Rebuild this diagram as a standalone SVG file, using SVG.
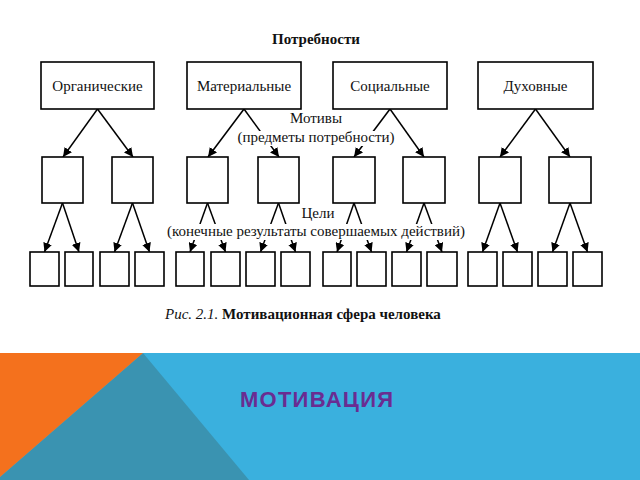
<svg xmlns="http://www.w3.org/2000/svg" width="640" height="480" viewBox="0 0 640 480">
<defs>
<marker id="ah" viewBox="0 0 10 10" refX="10" refY="5" markerWidth="9" markerHeight="9" markerUnits="userSpaceOnUse" orient="auto">
<path d="M0,0 L10,5 L0,10 z" fill="#000"/>
</marker>
<style>
.box{fill:#fff;stroke:#000;stroke-width:1.6}
.lbl{font-size:15px;fill:#111;text-anchor:middle}
.ar{stroke:#000;stroke-width:1.5;fill:none;marker-end:url(#ah)}
.bold{font-weight:bold}
</style>
</defs>
<rect width="640" height="480" fill="#fff"/>

<!-- bottom band -->
<rect x="0" y="353" width="640" height="127" fill="#3ab0de"/>
<polygon points="143,353 249,480 0,480 0,477" fill="#3a93b1"/>
<polygon points="0,353 143,353 0,477" fill="#f4711d"/>
<text x="240" y="407" font-family="'Liberation Sans',Arial,sans-serif" font-size="22" font-weight="bold" fill="#6a2c91" textLength="153">МОТИВАЦИЯ</text>

<g id="connectors">
<line class="ar" x1="97.5" y1="109" x2="63" y2="157"/>
<line class="ar" x1="97.5" y1="109" x2="133" y2="157"/>
<line class="ar" x1="244" y1="109" x2="208" y2="157"/>
<line class="ar" x1="244" y1="109" x2="279" y2="157"/>
<line class="ar" x1="390" y1="109" x2="354" y2="157"/>
<line class="ar" x1="390" y1="109" x2="424" y2="157"/>
<line class="ar" x1="535.5" y1="109" x2="500" y2="157"/>
<line class="ar" x1="535.5" y1="109" x2="570" y2="157"/>

<line class="ar" x1="62.5" y1="203" x2="44.5" y2="252"/>
<line class="ar" x1="62.5" y1="203" x2="79" y2="252"/>
<line class="ar" x1="132.5" y1="203" x2="114.5" y2="252"/>
<line class="ar" x1="132.5" y1="203" x2="149.5" y2="252"/>
<line class="ar" x1="207.5" y1="203" x2="190" y2="252"/>
<line class="ar" x1="207.5" y1="203" x2="225.5" y2="252"/>
<line class="ar" x1="278.5" y1="203" x2="260.5" y2="252"/>
<line class="ar" x1="278.5" y1="203" x2="295.5" y2="252"/>
<line class="ar" x1="354" y1="203" x2="337" y2="252"/>
<line class="ar" x1="354" y1="203" x2="371.5" y2="252"/>
<line class="ar" x1="424" y1="203" x2="406.5" y2="252"/>
<line class="ar" x1="424" y1="203" x2="442" y2="252"/>
<line class="ar" x1="500" y1="203" x2="482.5" y2="252"/>
<line class="ar" x1="500" y1="203" x2="517.5" y2="252"/>
<line class="ar" x1="570" y1="203" x2="552.5" y2="252"/>
<line class="ar" x1="570" y1="203" x2="587.5" y2="252"/>
</g>

<g font-family="'Liberation Serif','Times New Roman',serif">
<text class="lbl bold" x="316" y="44" font-size="14">Потребности</text>

<!-- label masks -->
<rect x="232" y="131" width="168" height="15" fill="#fff"/>
<rect x="159" y="224" width="315" height="16" fill="#fff"/>
<text class="lbl" x="316" y="123">Мотивы</text>
<text class="lbl" x="316" y="142">(предметы потребности)</text>
<text class="lbl" x="318" y="218">Цели</text>
<text class="lbl" x="316" y="236">(конечные результаты совершаемых действий)</text>

<g id="n-org"><rect class="box" x="41" y="62" width="113" height="47"/><text class="lbl" x="97.5" y="91">Органические</text></g>
<g id="n-mat"><rect class="box" x="187" y="62" width="114" height="47"/><text class="lbl" x="244" y="91">Материальные</text></g>
<g id="n-soc"><rect class="box" x="333" y="62" width="114" height="47"/><text class="lbl" x="390" y="91">Социальные</text></g>
<g id="n-duh"><rect class="box" x="478" y="62" width="115" height="47"/><text class="lbl" x="535.5" y="91">Духовные</text></g>

<g id="m1"><rect class="box" x="42" y="157" width="41" height="46"/></g>
<g id="m2"><rect class="box" x="112" y="157" width="41" height="46"/></g>
<g id="m3"><rect class="box" x="187" y="157" width="41" height="46"/></g>
<g id="m4"><rect class="box" x="258" y="157" width="41" height="46"/></g>
<g id="m5"><rect class="box" x="333" y="157" width="42" height="46"/></g>
<g id="m6"><rect class="box" x="403" y="157" width="42" height="46"/></g>
<g id="m7"><rect class="box" x="479" y="157" width="42" height="46"/></g>
<g id="m8"><rect class="box" x="549" y="157" width="42" height="46"/></g>

<g id="b1"><rect class="box" x="30" y="252" width="29" height="34"/></g>
<g id="b2"><rect class="box" x="65" y="252" width="28" height="34"/></g>
<g id="b3"><rect class="box" x="100" y="252" width="29" height="34"/></g>
<g id="b4"><rect class="box" x="135" y="252" width="29" height="34"/></g>
<g id="b5"><rect class="box" x="176" y="252" width="28" height="34"/></g>
<g id="b6"><rect class="box" x="211" y="252" width="29" height="34"/></g>
<g id="b7"><rect class="box" x="246" y="252" width="29" height="34"/></g>
<g id="b8"><rect class="box" x="281" y="252" width="29" height="34"/></g>
<g id="b9"><rect class="box" x="323" y="252" width="28" height="34"/></g>
<g id="b10"><rect class="box" x="357" y="252" width="29" height="34"/></g>
<g id="b11"><rect class="box" x="392" y="252" width="29" height="34"/></g>
<g id="b12"><rect class="box" x="427" y="252" width="30" height="34"/></g>
<g id="b13"><rect class="box" x="468" y="252" width="29" height="34"/></g>
<g id="b14"><rect class="box" x="503" y="252" width="29" height="34"/></g>
<g id="b15"><rect class="box" x="538" y="252" width="29" height="34"/></g>
<g id="b16"><rect class="box" x="573" y="252" width="29" height="34"/></g>

<text x="165" y="319" font-size="15" fill="#111"><tspan font-style="italic">Рис. 2.1.</tspan> <tspan font-weight="bold">Мотивационная сфера человека</tspan></text>
</g>
</svg>
